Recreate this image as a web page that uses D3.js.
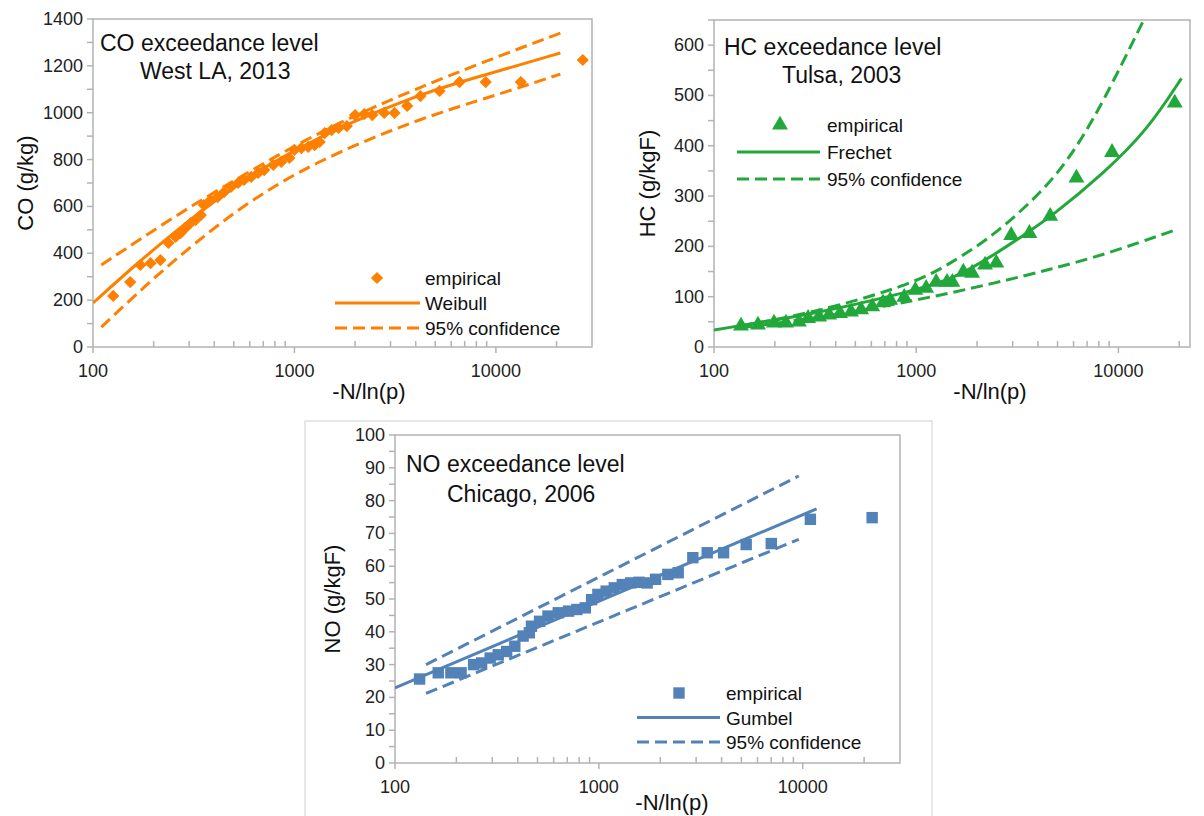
<!DOCTYPE html>
<html><head><meta charset="utf-8">
<script src="https://cdn.jsdelivr.net/npm/d3@7"></script>
<style>body{margin:0;background:#fff}svg{font-family:"Liberation Sans",Arial,sans-serif}</style>
</head><body><svg id="c" width="1204" height="816"></svg>
<script>
// ---- CO (West LA, 2013) ----
const coEmpX=[126,153,172,193,216,237,257,272,288,305,323,343,355,384,416,447,484,525,562,610,660,708,785,860,944,1000,1083,1170,1259,1334,1413,1530,1656,1820,2000,2220,2433,2790,3140,3630,4220,5250,6600,8900,13300,27000];
const coEmpY=[218,277,350,358,371,444,470,486,508,529,542,563,606,627,640,661,683,700,713,726,743,755,777,790,807,841,849,854,862,875,913,926,935,943,990,994,990,999,999,1029,1071,1093,1131,1131,1131,1225];
const coFitX=[100,166,272,398,589,1000,1860,3980,6600,10500,20900];
const coFitY=[188,358,512,620,726,841,956,1070,1131,1180,1255];
const coUpX=[110,272,525,1000,2000,3980,8600,20900];
const coUpY=[350,575,720,860,990,1100,1215,1340];
const coLoX=[110,186,316,589,1260,3980,10500,20900];
const coLoY=[85,270,440,620,790,970,1080,1165];
// ---- HC (Tulsa, 2003) ----
const hcEmpX=[136,165,198,227,263,292,331,371,420,476,534,606,685,744,873,990,1120,1255,1420,1510,1710,1890,2190,2490,2950,3630,4600,6200,9300,19000];
const hcEmpY=[42,44,48,48,50,57,60,64,67,70,74,80,88,93,99,113,117,129,129,129,149,147,163,167,222,226,260,336,387,485];
const hcFitX=[100,331,990,1490,2520,3500,4650,8500,13900,20500];
const hcFitY=[34,67,113,133,187,226,259,346,431,534];
const hcUpX=[135,331,990,1490,2520,4650,6400,8500,13200];
const hcUpY=[42,70,127,167,226,326,405,491,646];
const hcLoX=[135,331,990,2520,4650,8500,19500];
const hcLoY=[38,58,92,128,155,183,234];
// ---- NO (Chicago, 2006) ----
const noEmpX=[132,163,188,211,243,266,293,321,353,387,425,456,467,512,563,632,710,780,858,921,989,1086,1190,1303,1432,1573,1725,1897,2180,2450,2890,3400,4090,5280,7010,10900,21900];
const noEmpY=[25.6,27.5,27.5,27.5,30,30.5,32,33,34,35.6,38.7,39.7,41.7,43.2,44.8,45.8,46.3,46.8,47.3,49.8,51.4,52.4,53.4,54.4,54.9,55.1,54.9,56,57.5,58,62.6,64.1,64.1,66.6,66.9,74.3,74.8];
const noFitX=[100,11700];
const noFitY=[22.9,77.5];
const noUpX=[142,9560];
const noUpY=[30.0,87.5];
const noLoX=[142,9560];
const noLoY=[21.2,68.2];

const xTicks=[100,1000,10000];
const svg=d3.select("#c");
const zip=(a,b)=>a.map((v,i)=>[v,b[i]]);

function chart(o){
  const g=svg.append("g");
  const x=d3.scaleLog().domain([100,o.xMax]).range([o.l,o.r]);
  const y=d3.scaleLinear().domain([0,o.yMax]).range([o.b,o.t]);
  const col=o.color;
  g.append("rect").attr("x",o.l).attr("y",o.t).attr("width",o.r-o.l).attr("height",o.b-o.t)
    .attr("fill","none").attr("stroke","#b3b3b3").attr("stroke-width",1.5);
  const minors=[];
  for(let d=100;d<o.xMax;d*=10)for(let k=2;k<=9;k++){if(d*k<o.xMax)minors.push(d*k);}
  g.selectAll(".mx").data(minors).join("line").attr("x1",d=>x(d)).attr("x2",d=>x(d))
    .attr("y1",o.b).attr("y2",o.b-6).attr("stroke","#b3b3b3").attr("stroke-width",1.5);
  g.selectAll(".Mx").data(xTicks).join("line").attr("x1",d=>x(d)).attr("x2",d=>x(d))
    .attr("y1",o.b+6).attr("y2",o.b).attr("stroke","#b3b3b3").attr("stroke-width",1.5);
  g.selectAll(".xl").data(xTicks).join("text").attr("x",d=>x(d)).attr("y",o.b+30)
    .attr("text-anchor","middle").attr("font-size",18).attr("fill","#222").text(d=>d);
  const yMinor=d3.range(0,o.yMax+1e-9,o.yMinorStep);
  g.selectAll(".my").data(yMinor).join("line").attr("x1",o.l-6).attr("x2",o.l)
    .attr("y1",d=>y(d)).attr("y2",d=>y(d)).attr("stroke","#b3b3b3").attr("stroke-width",1.5);
  const yMaj=d3.range(0,o.yMax+1e-9,o.yStep);
  g.selectAll(".yl").data(yMaj).join("text").attr("x",o.l-10).attr("y",d=>y(d)+6)
    .attr("text-anchor","end").attr("font-size",18).attr("fill","#222").text(d=>d);
  g.append("text").attr("transform",`translate(${o.ylx},${(o.t+o.b)/2}) rotate(-90)`)
    .attr("text-anchor","middle").attr("font-size",22).attr("fill","#111").text(o.yLabel);
  g.append("text").attr("x",o.xlx).attr("y",o.xly).attr("text-anchor","middle")
    .attr("font-size",22).attr("fill","#111").text("-N/ln(p)");
  const clip="clip"+o.id;
  g.append("clipPath").attr("id",clip).append("rect").attr("x",o.l).attr("y",o.t)
    .attr("width",o.r-o.l).attr("height",o.b-o.t);
  const line=d3.line().x(d=>x(d[0])).y(d=>y(d[1])).curve(d3.curveBasis);
  const pg=g.append("g").attr("clip-path",`url(#${clip})`);
  [[o.up,true],[o.lo,true],[o.fit,false]].forEach(([pts,dash])=>{
    pg.append("path").attr("d",line(pts)).attr("fill","none").attr("stroke",col)
      .attr("stroke-width",3).attr("stroke-dasharray",dash?"12,6":null);
  });
  const sym=d3.symbol().type(o.sym).size(o.symSize);
  g.selectAll(".pt").data(o.emp).join("path")
    .attr("transform",d=>`translate(${x(d[0])},${y(d[1])})${o.rot?" rotate(45)":""}`)
    .attr("d",sym).attr("fill",col);
  o.title.forEach((t,i)=>g.append("text").attr("x",t[1]).attr("y",t[2])
    .attr("font-size",23).attr("fill","#111").text(t[0]));
  const L=o.leg;
  g.append("path").attr("transform",`translate(${L.mx},${L.y0})${o.rot?" rotate(45)":""}`)
    .attr("d",sym).attr("fill",col);
  g.append("line").attr("x1",L.lx1).attr("x2",L.lx2).attr("y1",L.y0+L.dy).attr("y2",L.y0+L.dy)
    .attr("stroke",col).attr("stroke-width",3);
  g.append("line").attr("x1",L.lx1).attr("x2",L.lx2).attr("y1",L.y0+2*L.dy).attr("y2",L.y0+2*L.dy)
    .attr("stroke",col).attr("stroke-width",3).attr("stroke-dasharray","12,6");
  [L.name1,o.dist,"95% confidence"].forEach((t,i)=>g.append("text").attr("x",L.tx)
    .attr("y",L.y0+i*L.dy+7).attr("font-size",19).attr("fill","#111").text(t));
}

svg.append("rect").attr("x",305).attr("y",421).attr("width",627).attr("height",400)
  .attr("fill","none").attr("stroke","#d0d0d0").attr("stroke-width",1);

chart({id:1,l:93,r:592,t:19,b:347,xMax:30000,yMax:1400,yStep:200,yMinorStep:100,color:"#ff8000",
  yLabel:"CO (g/kg)",ylx:33,xlx:369,xly:399,
  emp:zip(coEmpX,coEmpY),fit:zip(coFitX,coFitY),up:zip(coUpX,coUpY),lo:zip(coLoX,coLoY),
  sym:d3.symbolSquare,symSize:75,rot:true,dist:"Weibull",
  title:[["CO exceedance level",100,51],["West LA, 2013",140,79]],
  leg:{mx:377,y0:278,dy:25,lx1:335,lx2:420,tx:425,name1:"empirical"}});

chart({id:2,l:714,r:1190,t:20,b:347,xMax:22600,yMax:650,yStep:100,yMinorStep:50,color:"#22a83a",
  yLabel:"HC (g/kgF)",ylx:655,xlx:990,xly:399,
  emp:zip(hcEmpX,hcEmpY),fit:zip(hcFitX,hcFitY),up:zip(hcUpX,hcUpY),lo:zip(hcLoX,hcLoY),
  sym:d3.symbolTriangle,symSize:110,rot:false,dist:"Frechet",
  title:[["HC exceedance level",724,55],["Tulsa, 2003",782,83]],
  leg:{mx:780,y0:125,dy:27,lx1:737,lx2:820,tx:827,name1:"empirical"}});

chart({id:3,l:395,r:900,t:435,b:763,xMax:30000,yMax:100,yStep:10,yMinorStep:5,color:"#5382b8",
  yLabel:"NO (g/kgF)",ylx:340,xlx:672,xly:810,
  emp:zip(noEmpX,noEmpY),fit:zip(noFitX,noFitY),up:zip(noUpX,noUpY),lo:zip(noLoX,noLoY),
  sym:d3.symbolSquare,symSize:130,rot:false,dist:"Gumbel",
  title:[["NO exceedance level",406,472],["Chicago, 2006",447,502]],
  leg:{mx:679,y0:693,dy:24.5,lx1:637,lx2:720,tx:726,name1:"empirical"}});
</script></body></html>
